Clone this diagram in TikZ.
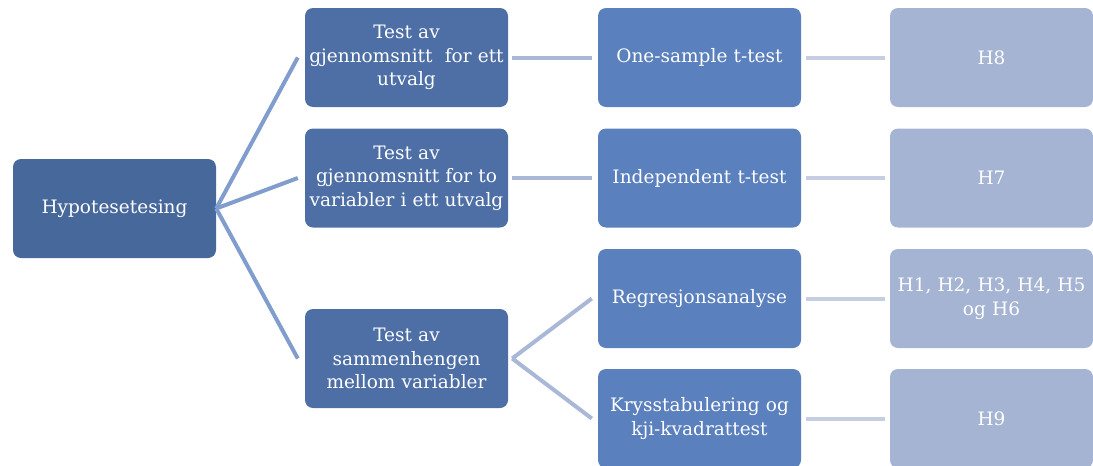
\documentclass[tikz,border=0pt]{standalone}
\usepackage{fontspec}
\setmainfont{DejaVu Serif}
\usetikzlibrary{calc}
\definecolor{cRoot}{HTML}{46689B}
\definecolor{cOne}{HTML}{4D6FA6}
\definecolor{cTwo}{HTML}{5A80BD}
\definecolor{cThree}{HTML}{A6B4D3}
\definecolor{lOne}{HTML}{809DCD}
\definecolor{lTwo}{HTML}{A9B8D7}
\definecolor{lThree}{HTML}{C6CEE2}
\tikzset{
  box/.style={rounded corners=8pt, minimum width=203pt, minimum height=99pt, text width=202pt, align=center, inner sep=0pt, text=white, font=\fontsize{18.5}{23.5}\selectfont},
  rootbox/.style={box, fill=cRoot},
  onebox/.style={box, fill=cOne},
  twobox/.style={box, fill=cTwo},
  threebox/.style={box, fill=cThree},
  conn/.style={line width=4pt},
}
\begin{document}
\begin{tikzpicture}[x=1pt,y=-1pt]
\useasboundingbox (0,0) rectangle (1093,466);
\node[rootbox] (root) at (114.5,208.5) {Hypotesetesing};
\node[onebox] (a1) at (406.5,57.5) {Test av\\gjennomsnitt\ \ for ett\\utvalg};
\node[onebox] (a2) at (406.5,178) {Test av\\gjennomsnitt for to\\variabler i ett utvalg};
\node[onebox] (a3) at (406.5,358.5) {Test av\\sammenhengen\\mellom variabler};
\node[twobox] (b1) at (699.5,57.5) {One-sample t-test};
\node[twobox] (b2) at (699.5,178) {Independent t-test};
\node[twobox] (b3) at (699.5,298.5) {Regresjonsanalyse};
\node[twobox] (b4) at (699.5,418.5) {Krysstabulering og\\kji-kvadrattest};
\node[threebox] (c1) at (991.5,57.5) {H8};
\node[threebox] (c2) at (991.5,178) {H7};
\node[threebox] (c3) at (991.5,298.5) {H1, H2, H3, H4, H5\\og H6};
\node[threebox] (c4) at (991.5,418.5) {H9};
\draw[conn, lOne] (root.east) -- ($(a1.west)+(-7,0)$);
\draw[conn, lOne] (root.east) -- ($(a2.west)+(-7,0)$);
\draw[conn, lOne] (root.east) -- ($(a3.west)+(-7,0)$);
\draw[conn, lTwo] ($(a1.east)+(4,0)$) -- ($(b1.west)+(-6,0)$);
\draw[conn, lTwo] ($(a2.east)+(4,0)$) -- ($(b2.west)+(-6,0)$);
\draw[conn, lTwo] ($(a3.east)+(4,0)$) -- ($(b3.west)+(-6,0)$);
\draw[conn, lTwo] ($(a3.east)+(4,0)$) -- ($(b4.west)+(-6,0)$);
\draw[conn, lThree] ($(b1.east)+(5,0)$) -- ($(c1.west)+(-5,0)$);
\draw[conn, lThree] ($(b2.east)+(5,0)$) -- ($(c2.west)+(-5,0)$);
\draw[conn, lThree] ($(b3.east)+(5,0)$) -- ($(c3.west)+(-5,0)$);
\draw[conn, lThree] ($(b4.east)+(5,0)$) -- ($(c4.west)+(-5,0)$);
\end{tikzpicture}
\end{document}
